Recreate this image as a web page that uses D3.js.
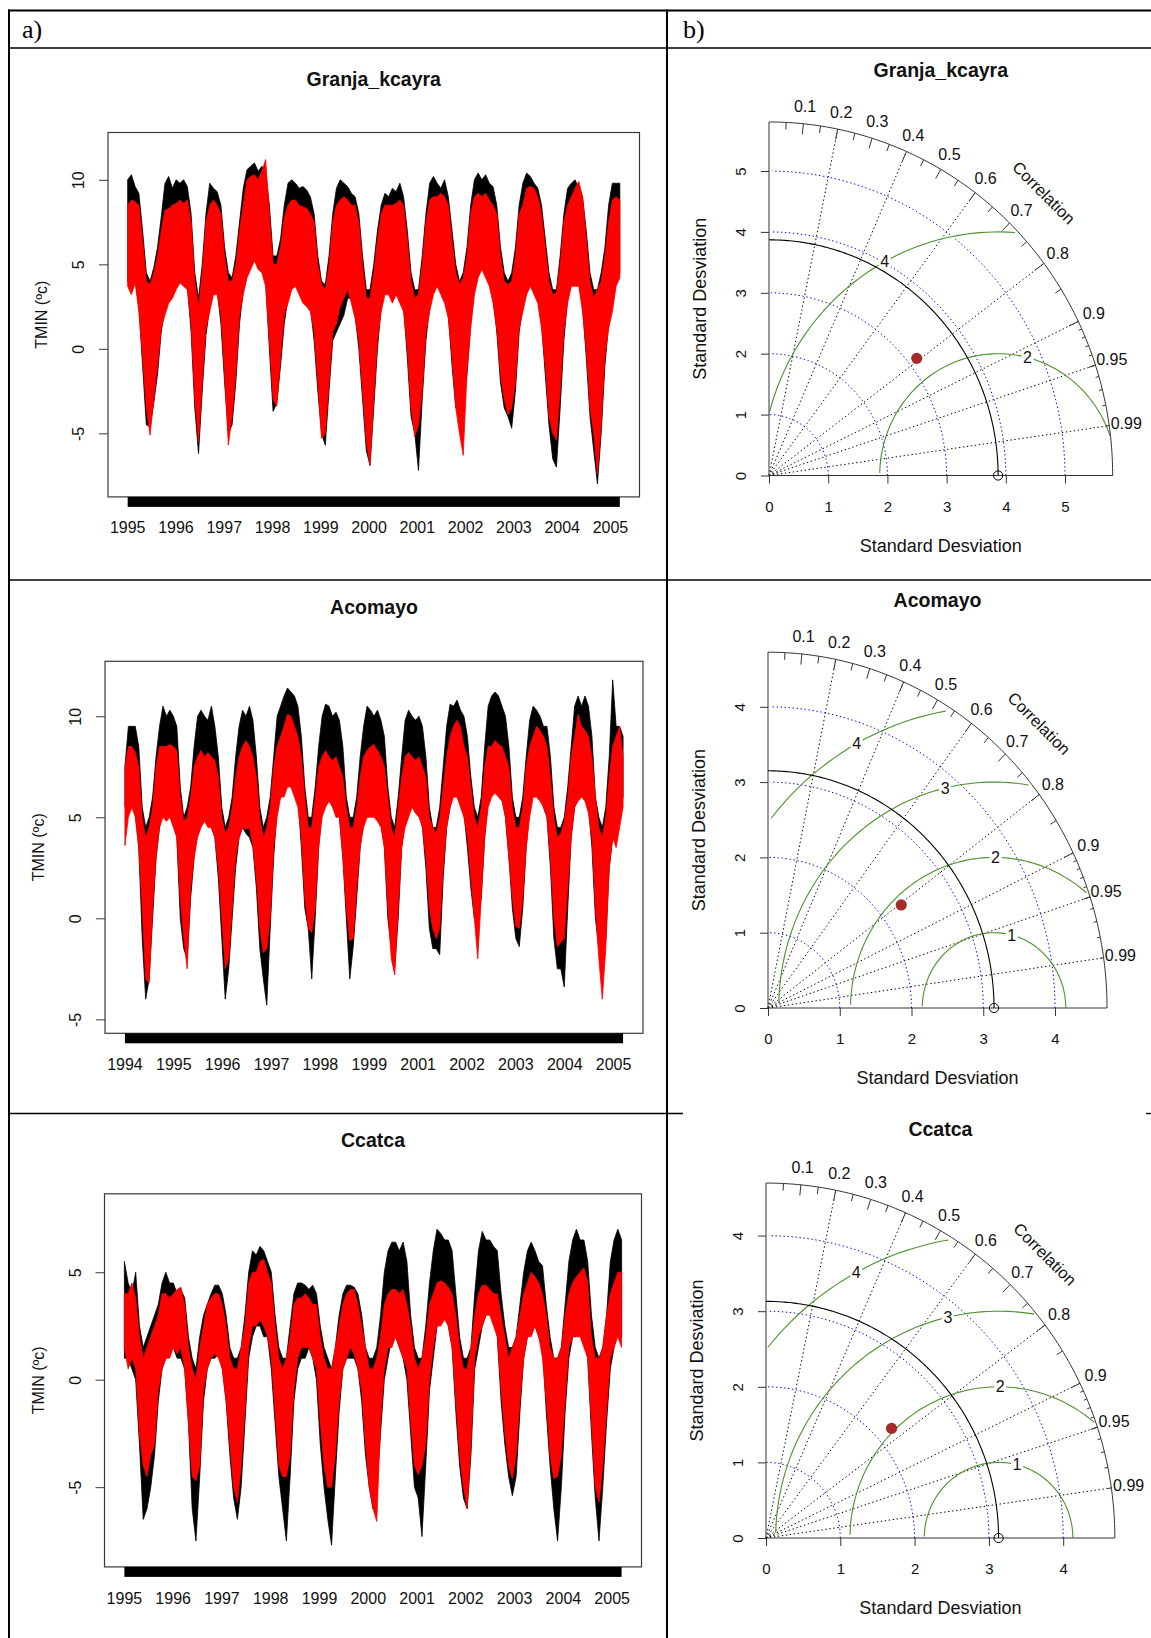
<!DOCTYPE html>
<html>
<head>
<meta charset="utf-8">
<title>TMIN series and Taylor diagrams</title>
<script src="https://cdn.jsdelivr.net/npm/d3@7/dist/d3.min.js"></script>
<style>
  html, body { margin: 0; padding: 0; background: #fff; }
  svg text { font-family: "Liberation Sans", Arial, Helvetica, sans-serif; fill: #111; }
</style>
</head>
<body>
<svg id="fig" width="1151" height="1638"></svg>
<script>
// ---------------- data ----------------
const stationNames = ["Granja_kcayra", "Acomayo", "Ccatca"];

const yearLabelsGranja  = ["1995","1996","1997","1998","1999","2000","2001","2002","2003","2004","2005"];
const yearLabelsAcomayo = ["1994","1995","1996","1997","1998","1999","2001","2002","2003","2004","2005"];
const yearLabelsCcatca  = ["1995","1996","1997","1998","1999","2000","2001","2002","2003","2004","2005"];

const tempTicksGranja  = [-5, 0, 5, 10];
const tempTicksAcomayo = [-5, 0, 5, 10];
const tempTicksCcatca  = [-5, 0, 5];

// Monthly envelopes of daily TMIN (°C): observed (black) and estimated (red)
const granjaObsHigh = [
  10.0,10.3,9.6,9.2,7.0,4.5,4.0,4.8,6.0,7.8,9.8,10.2,
  9.5,10.0,9.8,10.0,9.6,8.0,4.5,3.0,5.0,8.0,9.8,9.5,
  9.3,8.5,6.0,4.5,4.2,5.5,7.5,9.5,10.6,10.8,11.0,10.5,
  10.8,10.5,8.5,5.5,5.5,6.5,8.5,9.8,10.0,9.8,9.5,9.6,
  9.4,9.0,8.0,5.5,4.0,3.8,5.5,8.0,9.5,10.0,9.8,9.6,
  9.2,9.0,8.0,5.5,3.5,3.5,5.0,7.0,8.5,9.2,9.0,9.5,
  9.3,9.8,9.0,7.0,4.5,3.5,3.5,5.5,8.0,9.8,10.2,9.8,
  9.5,10.0,9.0,7.0,5.0,4.0,4.5,6.0,8.5,10.0,10.4,10.0,
  10.3,9.8,9.6,8.5,6.0,4.5,4.0,4.5,6.0,8.5,9.8,10.4,
  10.2,9.8,9.5,8.5,6.5,4.5,3.5,3.5,5.5,8.0,9.5,9.8,
  10.0,9.5,9.0,7.0,4.5,3.5,3.5,4.5,6.0,8.5,9.8,9.8,
  9.8];
const granjaObsLow = [
  4.0,3.5,4.2,2.5,-1.0,-4.5,-4.6,-3.2,-1.5,1.0,2.5,3.0,
  3.3,3.8,4.2,4.0,3.8,1.0,-3.5,-6.2,-2.5,0.8,2.5,3.5,
  3.5,1.5,-2.0,-5.0,-4.5,-2.0,1.5,3.5,4.5,5.0,5.5,5.0,
  4.8,4.0,0.0,-3.7,-3.2,-1.0,1.5,3.0,3.8,4.0,3.5,3.0,
  2.8,2.5,0.5,-2.5,-5.0,-5.7,-2.5,0.5,1.0,1.5,2.0,3.0,
  3.0,2.0,0.0,-3.0,-6.0,-6.9,-3.5,0.0,2.5,3.5,3.5,3.0,
  3.5,3.0,2.5,-0.5,-4.0,-5.0,-7.2,-3.0,0.5,2.5,3.5,4.0,
  3.5,3.0,2.0,-1.0,-3.5,-3.2,-3.5,-1.5,1.5,3.5,4.5,5.0,
  4.5,4.0,3.0,1.0,-2.0,-3.5,-4.0,-4.7,-2.5,1.0,2.5,3.5,
  4.0,3.5,3.0,1.5,-1.5,-4.5,-6.5,-7.0,-3.5,0.5,3.0,4.0,
  4.0,4.0,2.5,-0.5,-4.0,-6.0,-8.0,-5.0,-1.0,1.5,2.5,4.0,
  4.5];
const granjaEstHigh = [
  8.5,8.8,8.7,8.5,6.5,4.0,3.8,4.5,5.5,7.0,8.2,8.3,
  8.5,8.6,8.8,8.6,8.8,7.5,4.0,2.5,4.5,7.5,8.5,8.8,
  8.5,8.0,5.5,4.0,4.0,5.0,7.0,8.5,10.0,10.2,10.3,10.0,
  10.5,11.2,8.0,5.0,5.0,6.0,7.8,8.5,8.8,8.8,8.5,8.4,
  8.3,8.0,7.5,5.0,3.8,3.5,5.0,7.5,8.5,8.8,9.0,8.8,
  8.5,8.5,7.5,5.0,3.0,3.0,4.5,6.5,8.0,8.5,8.5,8.5,
  8.6,8.8,8.5,6.5,4.0,3.0,3.2,5.0,7.5,8.8,9.0,9.0,
  9.2,9.0,8.5,6.5,4.5,3.8,4.2,5.5,8.0,9.0,9.2,9.0,
  9.2,8.8,8.5,8.0,5.5,4.0,3.8,4.0,5.5,8.0,8.5,9.5,
  9.6,9.5,9.0,8.0,6.0,4.0,3.2,3.3,5.0,7.5,8.5,9.0,
  9.5,9.9,9.0,6.5,4.0,3.0,3.5,4.0,5.5,7.5,8.8,9.0,
  8.8];
const granjaEstLow = [
  3.7,3.2,3.9,2.2,-0.5,-3.5,-5.1,-3.0,-1.0,1.2,2.0,2.7,
  3.0,3.5,3.9,3.7,3.5,1.5,-3.0,-5.5,-2.0,1.2,2.2,3.2,
  3.2,2.0,-1.5,-5.7,-4.0,-1.5,2.0,3.2,4.2,4.7,5.2,4.7,
  4.5,3.7,0.5,-3.0,-3.4,-0.5,2.0,2.7,3.5,3.7,3.2,2.7,
  2.5,2.2,1.0,-2.0,-5.3,-5.0,-2.0,1.0,1.5,2.5,3.0,3.5,
  2.7,1.8,0.5,-2.5,-5.5,-6.9,-3.0,0.5,2.2,3.2,3.2,2.7,
  3.2,2.7,2.2,0.0,-3.5,-5.2,-4.5,-2.5,1.0,2.2,3.2,3.7,
  3.2,2.7,1.8,-0.5,-3.5,-5.0,-6.3,-1.5,1.2,3.2,4.2,4.7,
  4.2,3.7,2.7,1.2,-1.5,-3.0,-3.9,-3.5,-2.0,1.2,2.2,3.2,
  3.7,3.2,2.7,1.2,-1.0,-4.0,-5.0,-5.4,-2.5,1.0,2.7,3.7,
  3.7,3.7,2.2,0.0,-3.5,-5.0,-7.4,-4.5,-0.5,1.2,2.2,3.7,
  4.2];

const acomayoObsHigh = [
  7.5,9.5,9.5,9.5,8.5,5.5,4.5,5.0,6.0,8.0,9.5,10.5,
  10.0,10.3,10.0,9.5,6.5,5.0,5.5,6.5,8.5,10.0,10.3,10.0,
  9.8,10.5,9.5,8.0,5.5,4.5,5.0,6.0,8.0,9.5,10.3,10.0,
  10.5,9.8,8.0,5.5,4.5,5.0,6.0,8.0,10.0,10.5,11.0,11.4,
  11.2,11.0,10.5,9.0,6.5,5.0,5.0,6.5,8.5,10.0,10.6,10.5,
  10.0,10.2,9.8,8.5,6.0,5.0,5.0,6.0,8.0,9.5,10.5,10.3,
  10.0,10.3,9.8,9.0,6.5,5.0,4.5,6.0,8.0,9.8,10.3,10.0,
  9.8,10.0,9.5,8.0,5.5,4.5,4.5,5.5,7.5,9.5,10.6,10.5,
  10.8,10.3,10.0,9.0,7.0,5.5,5.0,6.0,8.5,10.5,11.0,11.2,
  11.0,10.5,10.0,8.5,6.0,5.0,5.0,6.0,8.0,9.8,10.5,10.3,
  10.0,9.5,9.5,8.0,5.5,4.5,4.5,5.0,6.5,8.5,10.5,11.0,
  10.5,11.0,10.5,9.0,6.0,5.0,4.5,5.5,8.0,11.8,9.5,9.5,
  9.0];
const acomayoObsLow = [
  5.5,5.5,6.0,5.2,3.5,-1.0,-4.0,-3.0,0.0,3.0,4.5,5.5,
  5.0,5.0,4.8,4.0,0.0,-1.5,-2.0,1.0,3.0,4.5,5.0,5.2,
  5.0,4.5,4.0,2.0,-1.0,-4.0,-2.5,0.0,2.5,4.0,4.5,4.2,
  4.0,3.5,1.5,-1.5,-3.0,-4.3,-0.5,3.0,5.5,6.0,6.5,7.0,
  6.8,6.5,6.0,3.5,0.5,-0.5,-3.0,0.0,3.5,5.5,6.0,6.0,
  6.0,5.5,5.0,3.0,0.0,-3.0,-1.4,1.0,3.5,5.0,5.5,5.5,
  5.2,5.0,4.8,3.5,0.0,-1.5,-2.4,0.0,3.5,5.0,5.5,5.9,
  5.5,5.2,4.5,2.5,-0.5,-1.5,-1.5,-1.8,2.0,4.5,5.5,6.3,
  6.0,5.8,5.2,3.5,1.5,0.0,-0.1,1.0,4.0,6.0,6.5,6.8,
  6.5,6.0,5.0,3.0,0.5,-1.0,-1.4,0.5,3.5,5.5,6.5,6.8,
  6.5,5.5,5.0,2.5,-1.0,-2.5,-2.5,-3.4,0.5,4.0,5.5,6.0,
  6.2,6.0,5.5,3.5,0.0,-1.5,-1.9,-1.0,2.5,4.0,4.5,5.0,
  6.0];
const acomayoEstHigh = [
  7.5,8.5,8.5,8.2,7.5,5.0,4.0,4.5,5.5,7.5,8.5,8.5,
  8.5,8.6,8.5,8.3,6.0,4.8,5.0,6.0,7.5,8.0,8.3,8.0,
  8.2,8.0,7.8,7.0,5.0,4.2,4.5,5.5,7.0,8.0,8.5,8.8,
  8.5,8.0,7.0,5.0,4.0,4.5,5.5,7.5,8.5,9.0,9.5,10.1,
  10.0,9.5,9.0,8.0,6.0,4.5,4.5,6.0,7.5,8.0,8.3,8.0,
  7.8,8.0,7.5,7.0,5.5,4.5,4.5,5.5,7.0,8.0,8.3,8.5,
  8.6,8.3,8.0,7.5,6.0,4.5,4.0,5.5,7.0,8.0,8.2,8.0,
  7.8,8.0,7.5,7.0,5.0,4.5,4.2,5.0,6.5,8.0,9.0,9.5,
  9.8,9.5,8.5,8.0,6.5,5.0,4.5,5.5,7.5,8.5,8.5,8.8,
  8.6,8.5,8.0,7.5,5.5,4.5,4.5,5.5,7.5,8.5,9.0,9.5,
  9.3,9.0,8.5,7.0,5.0,4.0,4.2,4.8,6.0,8.0,9.0,10.1,
  9.5,9.3,9.0,8.0,6.0,4.5,4.0,5.0,7.0,8.5,9.0,9.5,
  8.0];
const acomayoEstLow = [
  3.6,5.0,5.5,5.0,3.5,0.5,-3.0,-3.2,0.5,3.0,4.5,5.0,
  4.8,5.0,4.5,4.0,1.0,-1.0,-2.5,1.5,3.0,4.0,4.5,4.8,
  4.5,4.5,4.0,2.5,0.0,-2.5,-2.0,0.5,3.0,4.0,4.5,4.4,
  4.5,3.5,2.0,-0.5,-1.7,-1.5,0.0,3.5,5.0,6.0,6.0,6.5,
  6.5,6.0,5.5,4.0,1.0,-0.5,-0.7,0.5,3.5,5.0,5.5,5.8,
  5.5,5.0,5.0,3.0,0.5,-1.1,-1.0,1.5,3.5,4.5,5.0,5.0,
  5.0,4.8,4.5,3.5,0.5,-2.0,-2.8,0.5,3.5,4.5,5.0,5.5,
  5.2,5.0,4.5,3.0,0.5,-0.5,-1.0,-0.5,2.5,4.5,5.5,6.0,
  6.0,5.5,5.0,4.0,2.0,0.0,-2.0,1.0,4.0,5.5,6.0,6.2,
  6.0,5.8,5.0,3.0,1.0,-0.4,-0.5,1.0,3.5,5.0,6.0,6.0,
  5.8,5.5,5.0,3.0,0.0,-1.4,-1.2,-1.0,1.5,4.0,5.5,5.8,
  6.0,5.8,5.2,4.0,0.5,-2.0,-4.0,-1.5,2.5,4.0,3.5,4.5,
  5.5];

const ccatcaObsHigh = [
  5.5,4.5,4.0,5.0,2.5,1.5,2.0,2.5,3.0,3.5,4.5,5.0,
  4.5,4.5,4.0,4.2,3.8,2.0,1.0,0.5,2.0,3.0,3.5,4.0,
  4.4,4.4,4.0,3.0,1.5,1.0,1.0,1.5,3.0,5.0,6.0,5.8,
  6.2,6.0,5.5,5.0,3.0,1.5,1.0,1.0,2.5,4.0,4.5,4.5,
  4.4,4.2,4.4,4.0,2.5,1.5,1.0,0.5,1.5,3.0,4.0,4.4,
  4.4,4.3,4.0,3.0,1.5,1.0,1.0,1.5,3.0,5.0,6.0,6.4,
  6.4,6.0,6.4,5.5,3.0,1.5,1.0,1.0,2.5,4.5,6.0,7.0,
  6.8,6.5,6.5,6.0,4.0,2.0,1.0,1.0,1.5,4.0,6.0,6.9,
  6.5,6.5,6.2,6.0,4.0,2.5,1.5,1.5,2.0,3.5,5.0,6.0,
  6.4,6.0,5.5,5.3,3.5,2.0,1.0,1.0,1.5,3.5,5.5,6.5,
  7.0,6.5,6.5,5.5,3.0,1.5,1.0,1.5,3.0,5.5,6.5,7.0,
  6.5];
const ccatcaObsLow = [
  1.0,1.0,0.5,0.0,-3.0,-6.5,-6.0,-5.0,-3.5,-1.0,0.5,1.0,
  1.2,1.5,1.0,1.0,0.5,-2.0,-6.0,-7.5,-4.5,-1.0,0.5,1.0,
  1.0,1.2,0.5,-1.0,-3.5,-5.5,-6.5,-5.0,-2.0,1.0,2.0,2.5,
  2.5,2.0,2.0,0.5,-2.0,-4.5,-6.0,-7.5,-4.5,-1.0,0.5,1.0,
  1.0,1.5,1.0,0.0,-3.0,-5.0,-6.5,-7.7,-4.5,-1.5,0.5,1.0,
  1.0,1.0,0.5,-1.0,-3.5,-5.0,-6.0,-5.0,-2.5,0.0,1.0,2.0,
  2.0,1.5,1.0,0.0,-2.5,-5.0,-5.5,-7.3,-4.0,-0.5,1.0,2.5,
  3.0,3.0,2.5,1.5,-1.5,-4.0,-5.5,-6.0,-3.5,0.5,1.5,2.5,
  3.0,3.2,3.0,2.0,-1.0,-3.0,-4.5,-5.4,-4.5,-1.5,1.0,2.0,
  2.5,2.5,2.0,1.5,-1.5,-4.0,-6.0,-7.5,-5.0,-1.5,1.0,2.0,
  2.0,2.5,2.0,1.0,-2.5,-5.5,-7.5,-5.0,-2.0,0.5,1.5,2.5,
  2.0];
const ccatcaEstHigh = [
  4.0,4.0,4.5,3.8,2.0,1.0,1.5,2.0,2.5,3.0,4.0,4.0,
  3.8,4.0,4.2,4.3,3.5,1.5,0.5,0.0,1.5,2.5,3.5,3.8,
  4.0,4.0,3.5,2.5,1.0,0.5,0.5,1.5,2.5,4.5,5.0,5.0,
  5.5,5.6,5.0,4.5,2.5,1.0,0.5,1.0,2.0,3.5,3.8,3.8,
  4.0,3.8,3.5,3.5,2.0,1.0,0.5,0.5,1.5,2.5,3.5,4.0,
  4.2,4.2,3.5,2.5,1.5,0.5,0.5,1.0,2.0,3.5,4.0,4.2,
  4.2,4.0,4.2,3.5,2.5,1.0,0.5,1.0,2.0,3.5,4.0,4.5,
  4.6,4.5,4.3,4.0,3.0,1.5,0.5,0.5,1.5,3.0,4.0,4.4,
  4.4,4.2,4.0,4.0,3.0,2.0,1.0,1.5,2.0,3.0,4.0,4.5,
  5.0,4.8,4.5,4.0,3.0,1.5,1.0,1.0,1.5,3.0,4.0,4.5,
  4.8,5.0,5.2,4.5,2.0,1.0,1.0,1.5,3.0,4.0,4.5,5.0,
  5.0];
const ccatcaEstLow = [
  1.5,0.5,1.0,0.5,-2.5,-4.0,-4.5,-3.5,-3.0,-0.5,0.5,1.0,
  1.0,1.5,1.2,1.5,0.5,-2.0,-4.5,-4.7,-4.0,-0.5,0.5,1.0,
  1.2,1.0,0.5,-1.0,-3.0,-5.0,-5.7,-4.0,-1.5,1.5,2.5,2.5,
  2.8,2.5,2.0,1.0,-1.5,-4.0,-4.5,-4.5,-3.5,-0.5,1.0,1.5,
  1.5,1.5,1.0,0.5,-2.0,-4.0,-5.0,-5.0,-3.5,-1.0,0.5,1.0,
  1.5,1.2,0.5,-0.5,-3.0,-5.0,-6.0,-6.6,-2.0,0.5,1.5,1.5,
  2.0,1.5,1.0,0.5,-2.0,-4.0,-4.4,-4.0,-3.0,0.0,1.5,2.5,
  2.5,2.8,2.5,1.5,-1.0,-3.5,-5.0,-6.0,-3.0,1.0,2.0,2.5,
  3.0,3.0,2.5,2.0,-0.5,-2.5,-4.0,-4.6,-3.5,-1.0,1.0,2.0,
  2.0,2.5,2.0,1.0,-1.0,-3.5,-4.6,-4.5,-3.5,-1.0,1.5,2.0,
  2.0,2.0,1.5,1.0,-2.0,-5.0,-5.7,-4.0,-1.5,1.0,1.5,2.0,
  1.5];

// Taylor diagram statistics (standard deviation in °C, correlation)
const refSD = [3.87, 3.15, 3.13];
const estSD = [3.151, 2.307, 2.227];
const estCorr = [0.792, 0.805, 0.759];
const sdTicksGranja  = [0, 1, 2, 3, 4, 5];
const sdTicksAcomayo = [0, 1, 2, 3, 4];
const sdTicksCcatca  = [0, 1, 2, 3, 4];
const rmsGranja  = [2, 4];
const rmsAcomayo = [1, 2, 3, 4];
const rmsCcatca  = [1, 2, 3, 4];
const corrLabels = [0.1, 0.2, 0.3, 0.4, 0.5, 0.6, 0.7, 0.8, 0.9, 0.95, 0.99];
const corrRays   = [0.2, 0.4, 0.6, 0.8, 0.9, 0.95, 0.99];
const corrMajor  = [0.1, 0.2, 0.3, 0.4, 0.5, 0.6, 0.7, 0.8, 0.9];
const corrMedium = [0.05, 0.15, 0.25, 0.35, 0.45, 0.55, 0.65, 0.75, 0.85, 0.95];
const corrMinor  = [0.91, 0.92, 0.93, 0.94, 0.95, 0.96, 0.97, 0.98, 0.99];

// ---------------- drawing ----------------
const svg = d3.select("#fig");
const INK = "#333";

// table frame
function rule(x1, y1, x2, y2, w) {
  svg.append("line").attr("x1", x1).attr("y1", y1).attr("x2", x2).attr("y2", y2)
    .attr("stroke", "#000").attr("stroke-width", w);
}
rule(8, 10.5, 1151, 10.5, 2);
rule(8, 48, 1151, 48, 1.5);
rule(9, 9.5, 9, 1638, 2);
rule(667, 9.5, 667, 1638, 2);
rule(8, 580, 1151, 580, 1.5);
rule(8, 1113.5, 683, 1113.5, 1.3);
rule(1146, 1113.5, 1151, 1113.5, 1.3);

svg.append("text").attr("x", 22).attr("y", 38).style("font-family", "'Liberation Serif', 'Times New Roman', serif")
  .style("font-size", "26px").style("fill", "#000").text("a)");
svg.append("text").attr("x", 683).attr("y", 38).style("font-family", "'Liberation Serif', 'Times New Roman', serif")
  .style("font-size", "26px").style("fill", "#000").text("b)");

function vText(g, x, y, str, size) {
  return g.append("text").attr("transform", `translate(${x},${y}) rotate(-90)`)
    .attr("text-anchor", "middle").style("font-size", size + "px").text(str);
}

function drawSeries(p) {
  const g = svg.append("g");
  const n = p.obsHigh.length - 1;
  const x = d3.scaleLinear().domain([-0.04 * n, 1.04 * n]).range([p.box.l, p.box.r]);
  const y = d3.scaleLinear().domain(p.yDomain).range([p.box.b, p.box.t]);
  const idx = d3.range(n + 1);
  const band = (hi, lo) => d3.area().x(i => x(i)).y0(i => y(lo[i])).y1(i => y(hi[i]))(idx);

  g.append("path").attr("d", band(p.obsHigh, p.obsLow))
    .attr("fill", "#000").attr("stroke", "#000").attr("stroke-width", 0.8);
  g.append("path").attr("d", band(p.estHigh, p.estLow))
    .attr("fill", "#ff0000").attr("stroke", "#ff0000").attr("stroke-width", 0.8);

  g.append("rect").attr("x", p.box.l).attr("y", p.box.t)
    .attr("width", p.box.r - p.box.l).attr("height", p.box.b - p.box.t)
    .attr("fill", "none").attr("stroke", "#3a3a3a").attr("stroke-width", 1.2);

  // left axis with labels parallel to the axis
  const ya = g.append("g").attr("transform", `translate(${p.box.l},0)`)
    .call(d3.axisLeft(y).tickValues(p.yTicks).tickSize(9).tickSizeOuter(0).tickFormat(d => String(d)));
  ya.select(".domain").remove();
  ya.selectAll(".tick line").attr("stroke", "#3a3a3a");
  ya.selectAll(".tick text").attr("x", null).attr("dy", null)
    .attr("transform", "translate(-24,0) rotate(-90)").attr("text-anchor", "middle")
    .style("font-size", "16px");

  // daily time axis: dense ticks merge into a solid strip
  g.append("rect").attr("x", x(0)).attr("y", p.box.b)
    .attr("width", x(n) - x(0)).attr("height", 10).attr("fill", "#000");

  const lx = d3.scalePoint().domain(p.labels).range([x(0), x(0) + 0.981 * (x(n) - x(0))]);
  g.selectAll(null).data(p.labels).join("text")
    .attr("x", d => lx(d)).attr("y", p.labelY).attr("text-anchor", "middle")
    .style("font-size", "16px").text(d => d);

  g.append("text").attr("x", (p.box.l + p.box.r) / 2).attr("y", p.titleY)
    .attr("text-anchor", "middle").style("font-size", "19.5px").style("font-weight", "bold")
    .text(p.title);

  vText(g, p.box.l - 61, (p.box.t + p.box.b) / 2, "TMIN (ºc)", 16);
}

function drawTaylor(p) {
  const g = svg.append("g");
  const maxsd = 1.5 * Math.max(p.ref, p.sd);
  const x = d3.scaleLinear().domain([0, maxsd]).range([p.ox, p.ox + maxsd * p.sx]);
  const y = d3.scaleLinear().domain([0, maxsd]).range([p.oy, p.oy - maxsd * p.sy]);
  const line = d3.line().x(d => x(d[0])).y(d => y(d[1]));
  const steps = (to, by) => d3.range(0, Math.floor(to / by + 1e-9) + 1).map(k => k * by);
  const arc = (r, to, by) => steps(to, by).map(a => [r * Math.cos(a), r * Math.sin(a)]);
  const dotted = "1.4,2.6";
  const stroke = (sel, col, w) => sel.attr("fill", "none").attr("stroke", col).attr("stroke-width", w || 1);

  // correlation rays
  corrRays.forEach(c => stroke(g.append("path")
    .attr("d", line([[0, 0], [maxsd * c, maxsd * Math.sqrt(1 - c * c)]])), "#000").attr("stroke-dasharray", dotted));

  stroke(g.append("path").attr("d", line([[0, maxsd], [0, 0], [maxsd, 0]])), INK);

  const xa = g.append("g").attr("transform", `translate(0,${p.oy})`)
    .call(d3.axisBottom(x).tickValues(p.ticks).tickSize(8).tickSizeOuter(0).tickFormat(d => String(d)));
  xa.select(".domain").remove();
  xa.selectAll(".tick line").attr("stroke", INK);
  xa.selectAll(".tick text").attr("y", 36).attr("dy", null).style("font-size", "15px");

  const ya = g.append("g").attr("transform", `translate(${p.ox},0)`)
    .call(d3.axisLeft(y).tickValues(p.ticks).tickSize(8).tickSizeOuter(0).tickFormat(d => String(d)));
  ya.select(".domain").remove();
  ya.selectAll(".tick line").attr("stroke", INK);
  ya.selectAll(".tick text").attr("x", null).attr("dy", null)
    .attr("transform", "translate(-23,0) rotate(-90)").attr("text-anchor", "middle")
    .style("font-size", "15px");

  // standard deviation arcs
  p.ticks.filter(s => s > 0).forEach(s =>
    stroke(g.append("path").attr("d", line(arc(s, Math.PI / 2, 0.03))), "#0000ff").attr("stroke-dasharray", dotted));

  // centred RMS difference arcs around the reference point
  const half = steps(Math.PI, 0.03);
  const labelAt = p.rms.map((_, i) => p.rms.length > 1 ? 45 + i * 25 / (p.rms.length - 1) : 45);
  p.rms.forEach((gm, gi) => {
    const pts = half.map(a => [p.ref + gm * Math.cos(a), gm * Math.sin(a)]);
    const firstNeg = pts.findIndex(q => q[0] < 0);
    const end = firstNeg >= 0 ? firstNeg - 1 : pts.length - 1;
    let start = 0;
    pts.forEach((q, i) => { if (q[0] * q[0] + q[1] * q[1] > maxsd * maxsd) start = i + 1; });
    stroke(g.append("path").attr("d", line(pts.slice(start, end + 1))), "#4d9130", 1.1);
    const q = pts[Math.floor(labelAt[gi]) - 1];
    if (q[0] > 0) {
      g.append("rect").attr("x", x(q[0]) - 6).attr("y", y(q[1]) - 8)
        .attr("width", 12).attr("height", 16).attr("fill", "#fff");
      g.append("text").attr("x", x(q[0])).attr("y", y(q[1]) + 5.5)
        .attr("text-anchor", "middle").style("font-size", "16px").text(gm);
    }
  });

  // outer correlation arc and its ticks
  stroke(g.append("path").attr("d", line(arc(maxsd, Math.PI / 2, 0.01).concat([[0, maxsd]]))), INK);
  const ticks = (cs, frac) => cs.forEach(c => {
    const s = Math.sqrt(1 - c * c);
    stroke(g.append("path").attr("d", line([[c * maxsd, s * maxsd], [c * frac * maxsd, s * frac * maxsd]])), INK);
  });
  ticks(corrMajor, 0.97);

  // reference standard deviation
  stroke(g.append("path").attr("d", line(arc(p.ref, Math.PI / 2, 0.01).concat([[0, p.ref]]))), "#000", 1.1);
  g.append("circle").attr("cx", x(p.ref)).attr("cy", y(0)).attr("r", 4.6)
    .attr("fill", "none").attr("stroke", "#000").attr("stroke-width", 1);

  corrLabels.forEach(c => g.append("text")
    .attr("x", x(1.05 * maxsd * c)).attr("y", y(1.05 * maxsd * Math.sqrt(1 - c * c)))
    .attr("dy", "0.36em").attr("text-anchor", "middle").style("font-size", "16px").text(String(c)));
  g.append("text").attr("transform", `translate(${x(0.8 * maxsd)},${y(0.8 * maxsd)}) rotate(45)`)
    .attr("dy", "0.36em").attr("text-anchor", "middle").style("font-size", "16.5px").text("Correlation");
  ticks(corrMedium, 0.98);
  ticks(corrMinor, 0.99);

  // estimated series
  g.append("circle").attr("cx", x(p.sd * p.cor)).attr("cy", y(p.sd * Math.sqrt(1 - p.cor * p.cor)))
    .attr("r", 5.6).attr("fill", "#a52a2a");

  const cx = p.ox + maxsd * p.sx / 2;
  g.append("text").attr("x", cx).attr("y", p.titleY).attr("text-anchor", "middle")
    .style("font-size", "19.5px").style("font-weight", "bold").text(p.title);
  g.append("text").attr("x", cx).attr("y", p.oy + 76).attr("text-anchor", "middle")
    .style("font-size", "18px").text("Standard Desviation");
  vText(g, p.ox - 63.5, p.oy - maxsd * p.sy / 2, "Standard Desviation", 18);
}

drawSeries({
  title: stationNames[0], labels: yearLabelsGranja, yTicks: tempTicksGranja,
  obsHigh: granjaObsHigh, obsLow: granjaObsLow, estHigh: granjaEstHigh, estLow: granjaEstLow,
  box: { l: 108, r: 639.5, t: 132.5, b: 496.9 }, yDomain: [-8.76, 12.8], titleY: 86, labelY: 533
});
drawSeries({
  title: stationNames[1], labels: yearLabelsAcomayo, yTicks: tempTicksAcomayo,
  obsHigh: acomayoObsHigh, obsLow: acomayoObsLow, estHigh: acomayoEstHigh, estLow: acomayoEstLow,
  box: { l: 105, r: 643, t: 661.3, b: 1033.3 }, yDomain: [-5.69, 12.72], titleY: 614, labelY: 1070
});
drawSeries({
  title: stationNames[2], labels: yearLabelsCcatca, yTicks: tempTicksCcatca,
  obsHigh: ccatcaObsHigh, obsLow: ccatcaObsLow, estHigh: ccatcaEstHigh, estLow: ccatcaEstLow,
  box: { l: 104.5, r: 641.5, t: 1193.8, b: 1566.9 }, yDomain: [-8.71, 8.65], titleY: 1146.5, labelY: 1604
});

drawTaylor({ title: stationNames[0], ref: refSD[0], sd: estSD[0], cor: estCorr[0],
  ticks: sdTicksGranja, rms: rmsGranja, ox: 769, oy: 475.5, sx: 59.2, sy: 60.9, titleY: 77 });
drawTaylor({ title: stationNames[1], ref: refSD[1], sd: estSD[1], cor: estCorr[1],
  ticks: sdTicksAcomayo, rms: rmsAcomayo, ox: 768, oy: 1008, sx: 71.75, sy: 75.3, titleY: 606.5 });
drawTaylor({ title: stationNames[2], ref: refSD[2], sd: estSD[2], cor: estCorr[2],
  ticks: sdTicksCcatca, rms: rmsCcatca, ox: 766, oy: 1538, sx: 74.3, sy: 75.6, titleY: 1136 });
</script>
</body>
</html>
